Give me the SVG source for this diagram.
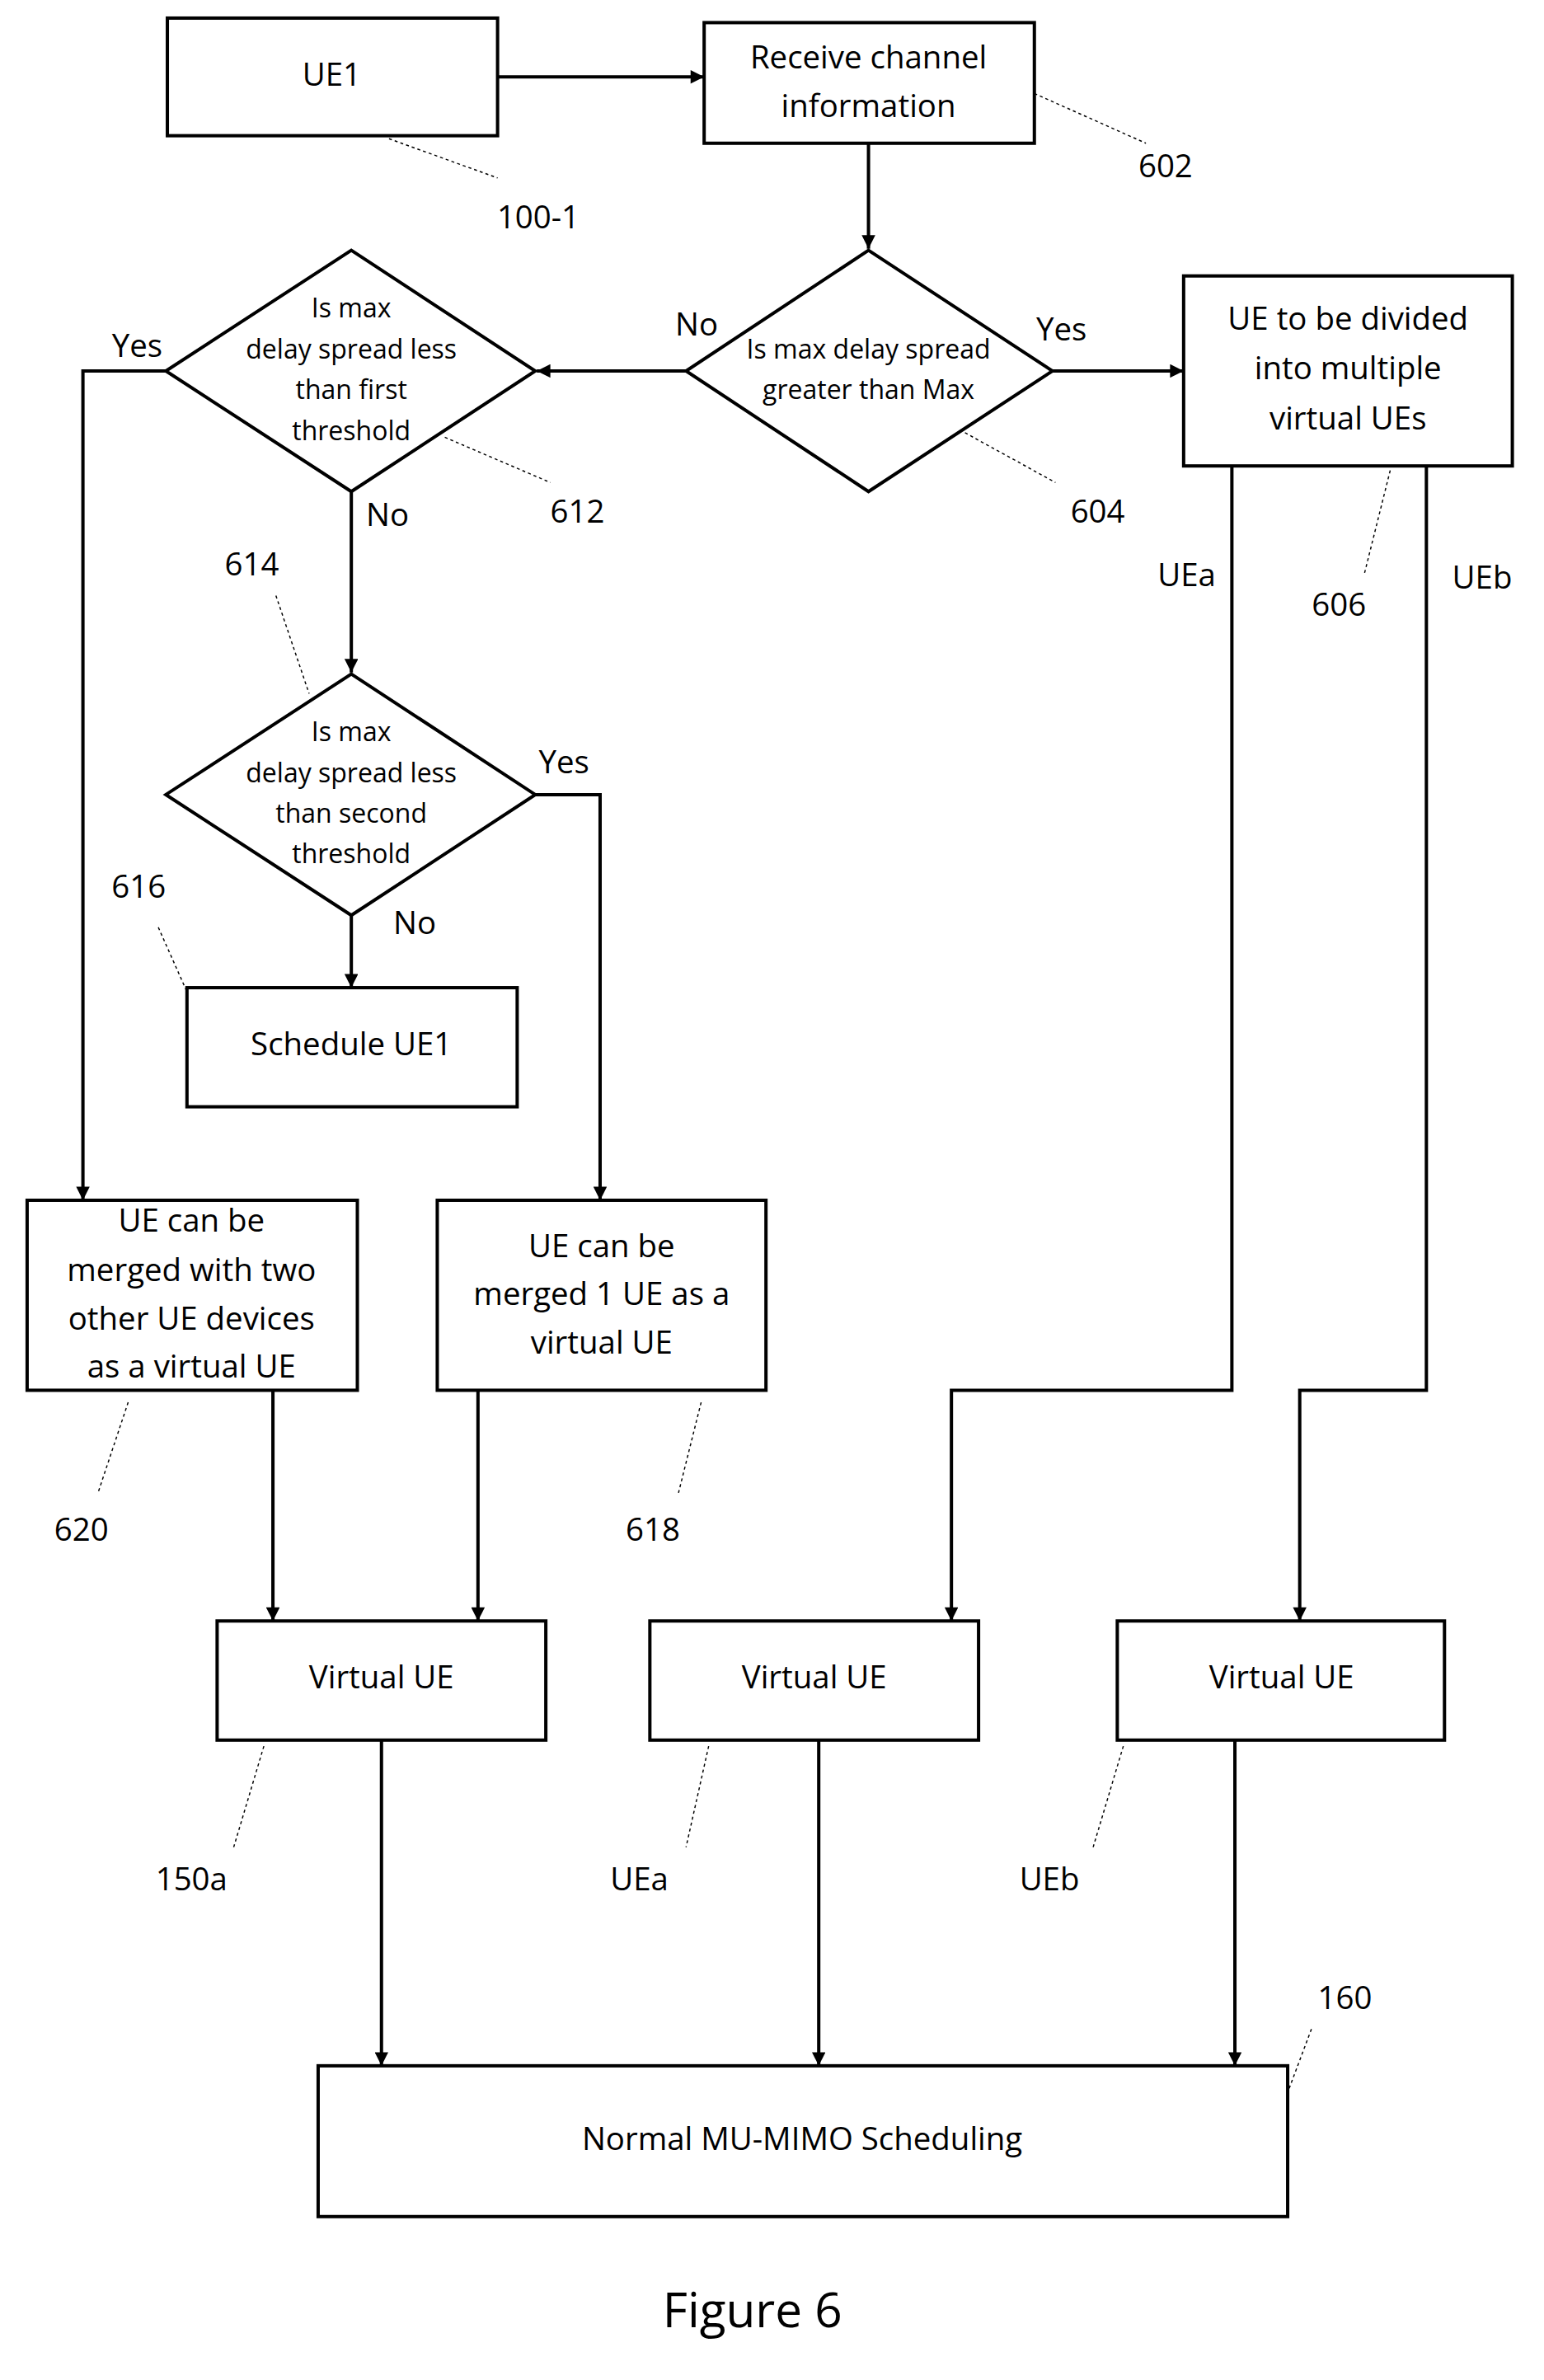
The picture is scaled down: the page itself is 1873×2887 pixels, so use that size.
<svg xmlns="http://www.w3.org/2000/svg" width="1873" height="2887" viewBox="0 0 1873 2887">
<defs>
<marker id="a" viewBox="0 0 10 10" refX="10" refY="5" markerWidth="10" markerHeight="9" orient="auto" markerUnits="userSpaceOnUse"><path d="M0,0 L10,5 L0,10 z" fill="#000"/></marker>
<style>
.n{fill:#fff;stroke:#000;stroke-width:2.2}
.c{fill:none;stroke:#000;stroke-width:2.2}
.l{fill:none;stroke:#000;stroke-width:0.8;stroke-dasharray:2,2}
text{font-family:"Open Sans","Liberation Sans",sans-serif;fill:#000;text-anchor:middle;dominant-baseline:middle}
.b{font-size:21px}
.d{font-size:17.5px}
.r{font-size:21px}
</style>
</defs>
<rect width="1873" height="2887" fill="#fff"/>
<g transform="scale(1.8291)">
<g id="connectors">
<path class="c" d="M330,51 H467" marker-end="url(#a)"/>
<path class="c" d="M576,95 V165" marker-end="url(#a)"/>
<path class="c" d="M698,246 H785" marker-end="url(#a)"/>
<path class="c" d="M455,246 H356" marker-end="url(#a)"/>
<path class="c" d="M110,246 H55 V796" marker-end="url(#a)"/>
<path class="c" d="M233,326 V446" marker-end="url(#a)"/>
<path class="c" d="M355,527 H398 V796" marker-end="url(#a)"/>
<path class="c" d="M233,607 V655" marker-end="url(#a)"/>
<path class="c" d="M817,309 V922 H631 V1075" marker-end="url(#a)"/>
<path class="c" d="M946,309 V922 H862 V1075" marker-end="url(#a)"/>
<path class="c" d="M181,922 V1075" marker-end="url(#a)"/>
<path class="c" d="M317,922 V1075" marker-end="url(#a)"/>
<path class="c" d="M253,1154 V1370" marker-end="url(#a)"/>
<path class="c" d="M543,1154 V1370" marker-end="url(#a)"/>
<path class="c" d="M819,1154 V1370" marker-end="url(#a)"/>
<path class="l" d="M686,62 L760,95 M258,92 L330,118 M640,287 L700,320 M295,290 L365,320 M183,395 L205,460 M105,615 L125,660 M85,930 L65,990 M465,930 L450,990 M922,312 L905,380 M175,1158 L155,1225 M470,1158 L455,1225 M745,1158 L725,1225 M855,1385 L870,1345"/>
<text class="r" x="462" y="217">No</text><text class="r" x="704" y="220">Yes</text>
<text class="r" x="91" y="231">Yes</text><text class="r" x="257" y="343">No</text>
<text class="r" x="374" y="507">Yes</text><text class="r" x="275" y="614">No</text>
<text class="r" x="787" y="383">UEa</text><text class="r" x="983" y="385">UEb</text>
</g>
<g id="labels">
<text class="r" x="357" y="146">100-1</text><text class="r" x="773" y="112">602</text>
<text class="r" x="728" y="341">604</text><text class="r" x="383" y="341">612</text>
<text class="r" x="167" y="376">614</text><text class="r" x="92" y="590">616</text>
<text class="r" x="888" y="403">606</text><text class="r" x="54" y="1016">620</text>
<text class="r" x="433" y="1016">618</text><text class="r" x="127" y="1248">150a</text>
<text class="r" x="424" y="1248">UEa</text><text class="r" x="696" y="1248">UEb</text>
<text class="r" x="892" y="1327">160</text>
<text x="499" y="1535" style="font-size:32px">Figure 6</text>
</g>
<g id="ue1"><rect class="n" x="111" y="12" width="219" height="78"/><text class="b" x="220" y="51">UE1</text></g>
<g id="n602"><rect class="n" x="467" y="15" width="219" height="80"/><text class="b" x="576" y="40">Receive channel</text><text class="b" x="576" y="72">information</text></g>
<g id="n604"><polygon class="n" points="576,166 698,246 576,326 455,246"/><text class="d" x="576" y="233">Is max delay spread</text><text class="d" x="576" y="260">greater than Max</text></g>
<g id="n606"><rect class="n" x="785" y="183" width="218" height="126"/><text class="b" x="894" y="213">UE to be divided</text><text class="b" x="894" y="246">into multiple</text><text class="b" x="894" y="279">virtual UEs</text></g>
<g id="n612"><polygon class="n" points="233,166 355,246 233,326 110,246"/><text class="d" x="233" y="206">Is max</text><text class="d" x="233" y="233">delay spread less</text><text class="d" x="233" y="260">than first</text><text class="d" x="233" y="287">threshold</text></g>
<g id="n614"><polygon class="n" points="233,447 355,527 233,607 110,527"/><text class="d" x="233" y="487">Is max</text><text class="d" x="233" y="514">delay spread less</text><text class="d" x="233" y="541">than second</text><text class="d" x="233" y="568">threshold</text></g>
<g id="n616"><rect class="n" x="124" y="655" width="219" height="79"/><text class="b" x="233" y="694">Schedule UE1</text></g>
<g id="n620"><rect class="n" x="18" y="796" width="219" height="126"/><text class="b" x="127" y="811">UE can be</text><text class="b" x="127" y="844">merged with two</text><text class="b" x="127" y="876">other UE devices</text><text class="b" x="127" y="908">as a virtual UE</text></g>
<g id="n618"><rect class="n" x="290" y="796" width="218" height="126"/><text class="b" x="399" y="828">UE can be</text><text class="b" x="399" y="860">merged 1 UE as a</text><text class="b" x="399" y="892">virtual UE</text></g>
<g id="v150a"><rect class="n" x="144" y="1075" width="218" height="79"/><text class="b" x="253" y="1114">Virtual UE</text></g>
<g id="vuea"><rect class="n" x="431" y="1075" width="218" height="79"/><text class="b" x="540" y="1114">Virtual UE</text></g>
<g id="vueb"><rect class="n" x="741" y="1075" width="217" height="79"/><text class="b" x="850" y="1114">Virtual UE</text></g>
<g id="n160"><rect class="n" x="211" y="1370" width="643" height="100"/><text class="b" x="532" y="1420">Normal MU-MIMO Scheduling</text></g>
</g>
</svg>
